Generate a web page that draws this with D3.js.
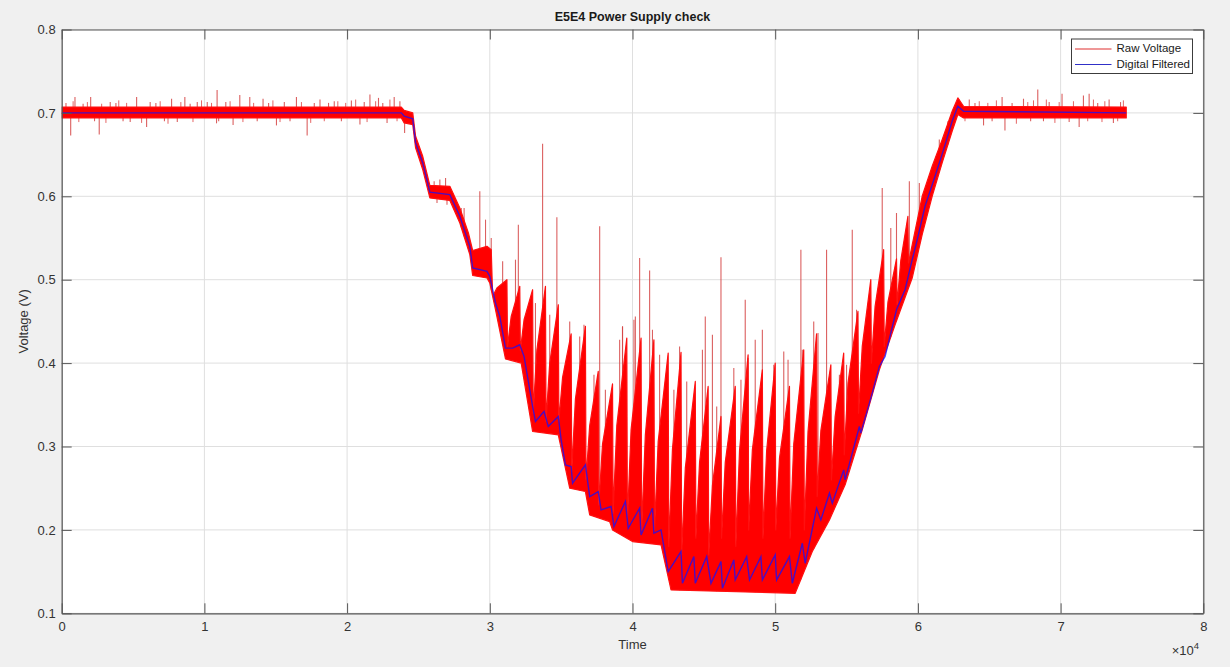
<!DOCTYPE html>
<html>
<head>
<meta charset="utf-8">
<script src="https://cdn.jsdelivr.net/npm/d3@7"></script>
<style>
  body { margin: 0; background: #f0f0f0; }
  svg { display: block; font-family: Arial, "Liberation Sans", Helvetica, sans-serif; }
</style>
</head>
<body>
<div id="chart"></div>
<script>
// tick labels (time axis is shown x 10^4)
var xTicks = [0, 10000, 20000, 30000, 40000, 50000, 60000, 70000, 80000];
var xTickLabels = ["0", "1", "2", "3", "4", "5", "6", "7", "8"];
var yTicks = [0.1, 0.2, 0.3, 0.4, 0.5, 0.6, 0.7, 0.8];
var yTickLabels = ["0.1", "0.2", "0.3", "0.4", "0.5", "0.6", "0.7", "0.8"];

// raw voltage: top edge of the dense band before the sawtooth part
var bandHeadT = [0, 23800, 24000, 24600, 24800, 25300, 25800, 27200, 27900, 28500, 28800, 29800, 30100, 30200];
var bandHeadV = [0.707, 0.707, 0.703, 0.700, 0.672, 0.648, 0.613, 0.612, 0.586, 0.556, 0.535, 0.540, 0.536, 0.480];

// raw voltage: sawtooth teeth (knee on the rise, time of the drop, top before drop, value after drop)
var kneeT = [30500, 31500, 32400, 33300, 34200, 35100, 36000, 37000, 37900, 38900, 39900, 40900, 41800, 42800, 43700, 44700,
             45600, 46500, 47500, 48400, 49400, 50300, 51300, 52300, 53200, 54200, 55100, 56100, 57000, 57900, 58800];
var kneeV = [0.490, 0.456, 0.452, 0.416, 0.400, 0.383, 0.357, 0.325, 0.303, 0.325, 0.320, 0.314, 0.306, 0.297, 0.274, 0.281,
             0.253, 0.281, 0.295, 0.296, 0.295, 0.286, 0.303, 0.318, 0.319, 0.336, 0.376, 0.420, 0.468, 0.473, 0.523];
var toothT = [31200, 32100, 33000, 33900, 34800, 35700, 36700, 37600, 38600, 39600, 40600, 41500, 42500, 43400, 44400, 45300,
              46200, 47200, 48100, 49100, 50000, 51000, 52000, 52900, 53900, 54800, 55800, 56700, 57600, 58500, 59300];
var toothPeak = [0.500, 0.492, 0.488, 0.492, 0.470, 0.435, 0.444, 0.390, 0.375, 0.430, 0.430, 0.428, 0.412, 0.413, 0.378, 0.372,
                 0.336, 0.372, 0.410, 0.392, 0.400, 0.372, 0.416, 0.435, 0.398, 0.412, 0.462, 0.500, 0.536, 0.525, 0.576];
var toothTrough = [0.420, 0.415, 0.340, 0.330, 0.330, 0.270, 0.260, 0.230, 0.220, 0.210, 0.200, 0.200, 0.180, 0.170, 0.190, 0.170,
                   0.190, 0.180, 0.200, 0.190, 0.200, 0.190, 0.200, 0.240, 0.260, 0.290, 0.340, 0.400, 0.420, 0.470, 0.520];

// raw voltage: top edge after the sawtooth part
var bandTailT = [60300, 61000, 61700, 62400, 62800, 63200, 74600];
var bandTailV = [0.600, 0.636, 0.668, 0.702, 0.718, 0.708, 0.707];

// raw voltage: bottom edge of the band
var lowT = [0, 23800, 24000, 24600, 24800, 25300, 25800, 27200, 27900, 28600, 28800, 29800, 30000, 30400, 31100, 32200, 33000,
            34800, 35600, 36700, 37000, 38400, 38600, 40000, 42000, 42700, 51400, 52600, 53800, 54900, 56100, 57300, 58400,
            59600, 60300, 61000, 61700, 62400, 62800, 63200, 74600];
var lowV = [0.694, 0.694, 0.688, 0.686, 0.658, 0.632, 0.598, 0.595, 0.568, 0.530, 0.505, 0.502, 0.496, 0.464, 0.405, 0.400, 0.318,
            0.314, 0.250, 0.246, 0.218, 0.210, 0.200, 0.186, 0.182, 0.128, 0.124, 0.174, 0.212, 0.254, 0.320, 0.392, 0.446,
            0.502, 0.554, 0.600, 0.640, 0.678, 0.698, 0.694, 0.694];

// raw voltage: single-sample spikes
var spikeT = [300, 630, 930, 1500, 2030, 2300, 2630, 3400, 3800, 4300, 4800, 5250, 5950, 6200, 6600, 7200, 7700, 8100, 8630, 9000,
              9500, 10200, 10850, 10890, 11000, 11500, 12010, 12480, 13180, 13700, 14110, 14500, 15050, 15600, 16000, 16450,
              17200, 17700, 18100, 18700, 19100, 19600, 20300, 20900, 21200, 21600, 22200, 22500, 22800, 23300, 23700, 24030,
              26100, 26300, 26500, 26900, 27000, 28000, 28200,
              29300, 29700, 30100, 30900, 31800, 32000, 33200, 33700, 34200, 34700, 35600, 36300, 36600, 37300, 37700, 38100,
              39100, 39300, 39300, 40100, 40200, 40500, 41200, 41400, 41900, 42900, 43300, 43800, 44900, 45100, 45600, 45900,
              46200, 47100, 47600, 47900, 48100, 48600, 49100, 49900, 50600, 50900, 51800, 51900, 52700, 53000, 53600, 54500,
              55000, 55400, 55700, 57500, 58100, 58500, 59400, 60100, 61500, 62100,
              62900, 63600, 64000, 64600, 65200, 65900, 66100, 66600, 67400, 67900, 68400, 68800, 69200, 70100, 70600, 71300,
              71600, 72000, 72600, 73400, 73700, 74200];
var spikeV = [0.712, 0.673, 0.719, 0.711, 0.719, 0.690, 0.674, 0.713, 0.712, 0.690, 0.689, 0.719, 0.683, 0.713, 0.712, 0.690, 0.717,
              0.689, 0.719, 0.711, 0.713, 0.713, 0.6875, 0.7275, 0.690, 0.713, 0.6855, 0.7215, 0.719, 0.690, 0.717, 0.712, 0.685,
              0.713, 0.690, 0.719, 0.673, 0.712, 0.716, 0.712, 0.714, 0.690, 0.715, 0.686, 0.713, 0.722, 0.718, 0.712, 0.688,
              0.719, 0.714, 0.676,
              0.618, 0.592, 0.620, 0.622, 0.590, 0.586, 0.586,
              0.606, 0.572, 0.550, 0.522, 0.524, 0.566, 0.472, 0.663, 0.458, 0.575, 0.450, 0.432, 0.446, 0.386, 0.564, 0.368,
              0.428, 0.444, 0.444, 0.452, 0.456, 0.526, 0.511, 0.440, 0.410, 0.368, 0.420, 0.378, 0.416, 0.456, 0.434, 0.348,
              0.527, 0.394, 0.380, 0.476, 0.406, 0.428, 0.440, 0.398, 0.414, 0.404, 0.536, 0.416, 0.450, 0.436, 0.536, 0.386,
              0.398, 0.560, 0.464, 0.610, 0.562, 0.580, 0.618, 0.616, 0.668, 0.690,
              0.716, 0.716, 0.712, 0.685, 0.690, 0.719, 0.679, 0.712, 0.717, 0.690, 0.728, 0.690, 0.713, 0.723, 0.689, 0.683,
              0.721, 0.723, 0.712, 0.716, 0.688, 0.713];

// raw voltage: small noise on the flat parts
var fuzzT = [800, 1200, 1800, 2800, 3100, 4000, 4550, 5600, 6900, 7450, 8350, 9200, 9800, 10500, 11800, 12700, 13450, 14800,
             15300, 16800, 17450, 18400, 19350, 19900, 20600, 21400, 22000, 23000, 23500,
             63300, 64300, 64900, 65500, 66900, 67700, 68100, 69000, 69600, 69900, 70900, 71900, 72300, 72900, 73100, 74000, 74400];
var fuzzV = [0.714, 0.689, 0.713, 0.711, 0.688, 0.715, 0.712, 0.688, 0.714, 0.687, 0.713, 0.689, 0.715, 0.712, 0.714, 0.689,
             0.712, 0.715, 0.689, 0.713, 0.688, 0.690, 0.714, 0.712, 0.716, 0.689, 0.714, 0.716, 0.690,
             0.690, 0.714, 0.712, 0.715, 0.687, 0.713, 0.715, 0.716, 0.688, 0.713, 0.714, 0.690, 0.716, 0.689, 0.714, 0.690, 0.715];

// digital filtered
var filtT = [0, 23800, 24000, 24600, 24800, 25300, 25800, 27200, 27900, 28600, 28800, 29800, 30000, 30400, 30700, 31100, 31600,
             32100, 32400, 33000, 33200, 33800, 34100, 34800, 35000, 35300, 35700, 35800, 36700, 37000, 37600, 37800, 38500,
             38700, 39500, 39700, 40500, 40600, 41400, 41500, 42000, 42500, 43400, 43500, 44300, 44400, 45200, 45500, 46200,
             46300, 47100, 47200, 48000, 48200, 49000, 49100, 50000, 50100, 51000, 51200, 51900, 52100, 52900, 53200, 53800,
             54000, 54800, 54900, 55900, 56000, 56800, 57300, 57700, 58500, 59100, 59600, 59900, 60500, 61200, 61800, 62400,
             62800, 63200, 74600];
var filtV = [0.700, 0.700, 0.696, 0.693, 0.664, 0.640, 0.605, 0.602, 0.576, 0.540, 0.514, 0.510, 0.504, 0.472, 0.456, 0.418,
             0.418, 0.422, 0.408, 0.348, 0.330, 0.342, 0.324, 0.336, 0.308, 0.278, 0.276, 0.256, 0.278, 0.240, 0.246, 0.224,
             0.228, 0.204, 0.234, 0.202, 0.226, 0.194, 0.226, 0.196, 0.200, 0.150, 0.174, 0.136, 0.168, 0.136, 0.168, 0.136,
             0.162, 0.130, 0.164, 0.140, 0.168, 0.140, 0.168, 0.140, 0.170, 0.140, 0.168, 0.136, 0.184, 0.160, 0.226, 0.212,
             0.244, 0.232, 0.272, 0.260, 0.324, 0.316, 0.364, 0.396, 0.408, 0.464, 0.488, 0.524, 0.544, 0.588, 0.624, 0.656,
             0.690, 0.708, 0.702, 0.700];

var margin = {top: 29.5, right: 26.7, bottom: 53.7, left: 61.7},
    width = 1230 - margin.left - margin.right,
    height = 667 - margin.top - margin.bottom;

var svg = d3.select("#chart").append("svg")
    .attr("width", 1230)
    .attr("height", 667);

svg.append("rect")
    .attr("width", 1230).attr("height", 667)
    .attr("fill", "#f0f0f0");

var g = svg.append("g")
    .attr("transform", "translate(" + margin.left + "," + margin.top + ")");

var x = d3.scaleLinear().domain([0, 80000]).range([0, width]);
var y = d3.scaleLinear().domain([0.1, 0.8]).range([height, 0]);

g.append("rect")
    .attr("width", width).attr("height", height)
    .attr("fill", "#ffffff");

g.append("clipPath").attr("id", "clip")
  .append("rect").attr("width", width).attr("height", height);

// grid
g.append("g").selectAll("line")
    .data(xTicks)
    .enter().append("line")
    .attr("x1", function(d) { return x(d); }).attr("x2", function(d) { return x(d); })
    .attr("y1", 0).attr("y2", height)
    .attr("stroke", "#dfdfdf").attr("stroke-width", 1);

g.append("g").selectAll("line")
    .data(yTicks)
    .enter().append("line")
    .attr("y1", function(d) { return y(d); }).attr("y2", function(d) { return y(d); })
    .attr("x1", 0).attr("x2", width)
    .attr("stroke", "#dfdfdf").attr("stroke-width", 1);

var plot = g.append("g").attr("clip-path", "url(#clip)");

var line = d3.line()
    .x(function(d) { return x(d[0]); })
    .y(function(d) { return y(d[1]); });

// raw voltage band
var upper = [];
bandHeadT.forEach(function(t, i) { upper.push([t, bandHeadV[i]]); });
toothT.forEach(function(t, i) {
  upper.push([kneeT[i], kneeV[i]]);
  upper.push([t, toothPeak[i]]);
  upper.push([t + 40, toothTrough[i]]);
});
bandTailT.forEach(function(t, i) { upper.push([t, bandTailV[i]]); });
var lower = lowT.map(function(t, i) { return [t, lowV[i]]; }).reverse();

var lowAt = d3.scaleLinear().domain(lowT).range(lowV);

function drawSpikes(ts, vs, color, w, op) {
  plot.append("g").selectAll("line")
      .data(ts)
      .enter().append("line")
      .attr("x1", function(d) { return x(d); }).attr("x2", function(d) { return x(d); })
      .attr("y1", function(d) { return y(lowAt(d)); })
      .attr("y2", function(d, i) { return y(vs[i]); })
      .attr("stroke", color).attr("stroke-width", w).attr("opacity", op);
}
drawSpikes(fuzzT, fuzzV, "#e04040", 1, 0.8);
drawSpikes(spikeT, spikeV, "#d64545", 1.1, 0.85);

plot.append("path")
    .attr("d", line(upper.concat(lower)) + "Z")
    .attr("fill", "#ff0000")
    .attr("stroke", "#ff1010")
    .attr("stroke-width", 1.2)
    .attr("stroke-linejoin", "round");

// digital filtered
plot.append("path")
    .datum(filtT.map(function(t, i) { return [t, filtV[i]]; }))
    .attr("d", line)
    .attr("fill", "none")
    .attr("stroke", "#1010ff")
    .attr("stroke-opacity", 0.75)
    .attr("stroke-width", 1.4);

// axes (ticks point inward, box on all sides)
g.append("g")
    .attr("transform", "translate(0," + height + ")")
    .call(d3.axisBottom(x).tickValues(xTicks)
      .tickFormat(function(d, i) { return xTickLabels[i]; })
      .tickSizeInner(-10).tickSizeOuter(0).tickPadding(8));

g.append("g")
    .call(d3.axisLeft(y).tickValues(yTicks)
      .tickFormat(function(d, i) { return yTickLabels[i]; })
      .tickSizeInner(-10).tickSizeOuter(0).tickPadding(6));

g.append("g")
    .call(d3.axisTop(x).tickValues(xTicks).tickFormat("").tickSizeInner(-10).tickSizeOuter(0));
g.append("g")
    .attr("transform", "translate(" + width + ",0)")
    .call(d3.axisRight(y).tickValues(yTicks).tickFormat("").tickSizeInner(-10).tickSizeOuter(0));

g.selectAll(".domain").attr("stroke", "#555555").attr("stroke-width", 1.2);
g.selectAll(".tick line").attr("stroke", "#555555");
g.selectAll(".tick text").attr("fill", "#333333").style("font-size", "13px")
    .style("font-family", "Arial, 'Liberation Sans', sans-serif");

// titles
svg.append("text")
    .attr("x", margin.left + width / 2).attr("y", 18)
    .attr("text-anchor", "middle").attr("dominant-baseline", "middle")
    .style("font-size", "12.5px").style("font-weight", "bold").attr("fill", "#1a1a1a")
    .text("E5E4 Power Supply check");

svg.append("text")
    .attr("x", margin.left + width / 2).attr("y", 646)
    .attr("text-anchor", "middle").attr("dominant-baseline", "middle")
    .style("font-size", "13px").attr("fill", "#333333")
    .text("Time");

svg.append("text")
    .attr("transform", "translate(25," + (margin.top + height / 2) + ") rotate(-90)")
    .attr("text-anchor", "middle").attr("dominant-baseline", "middle")
    .style("font-size", "13px").attr("fill", "#333333")
    .text("Voltage (V)");

var expo = svg.append("text")
    .attr("x", 1199).attr("y", 655)
    .attr("text-anchor", "end")
    .style("font-size", "13px").attr("fill", "#333333");
expo.append("tspan").text("\u00d710");
expo.append("tspan").attr("dy", -6).style("font-size", "9.5px").text("4");

// legend
var legend = svg.append("g").attr("transform", "translate(1071.5,39)");
legend.append("rect")
    .attr("width", 121).attr("height", 34.5)
    .attr("fill", "#ffffff").attr("stroke", "#3c3c3c").attr("stroke-width", 1);
var legendNames = ["Raw Voltage", "Digital Filtered"];
var legendColors = ["#e03030", "#3030c8"];
legendNames.forEach(function(n, i) {
  legend.append("line")
      .attr("x1", 3.5).attr("x2", 40).attr("y1", 10 + i * 15.5).attr("y2", 10 + i * 15.5)
      .attr("stroke", legendColors[i]).attr("stroke-width", 1.2);
  legend.append("text")
      .attr("x", 45).attr("y", 10 + i * 15.5)
      .attr("dominant-baseline", "middle")
      .style("font-size", "11.5px").attr("fill", "#1a1a1a")
      .text(n);
});
</script>
</body>
</html>
